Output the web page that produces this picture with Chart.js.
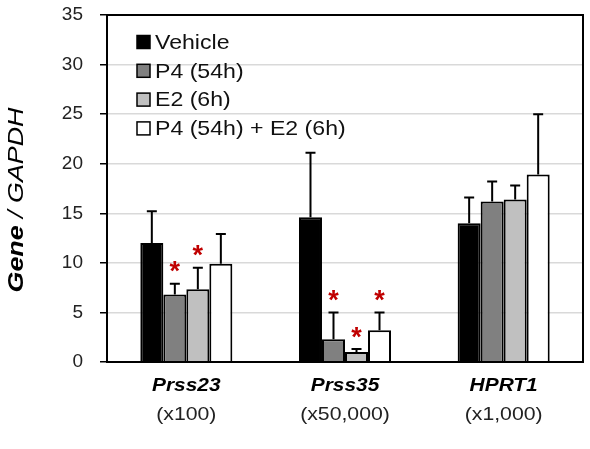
<!DOCTYPE html>
<html>
<head>
<meta charset="utf-8">
<script src="https://cdn.jsdelivr.net/npm/chart.js@4"></script>
<style>
  html, body { margin: 0; padding: 0; background: #fff; }
  #wrap { width: 590px; height: 449px; position: relative; }
</style>
</head>
<body>
<div id="wrap"><canvas id="chart"></canvas></div>
<script>
const genes = ["Prss23", "Prss35", "HPRT1"];
const scales = ["(x100)", "(x50,000)", "(x1,000)"];
const seriesNames = ["Vehicle", "P4 (54h)", "E2 (6h)", "P4 (54h) + E2 (6h)"];
const seriesColors = ["#000000", "#808080", "#c0c0c0", "#ffffff"];

const vehicle = [12.0, 14.6, 14.0];
const p4 = [6.8, 2.3, 16.2];
const e2 = [7.35, 1.0, 16.4];
const p4e2 = [9.9, 3.2, 18.9];

const vehicleErr = [3.2, 6.5, 2.6];
const p4Err = [1.1, 2.7, 2.0];
const e2Err = [2.15, 0.3, 1.4];
const p4e2Err = [3.0, 1.8, 6.1];

// significance marks, same order as series
const vehicleSig = [false, false, false];
const p4Sig = [true, true, false];
const e2Sig = [true, true, false];
const p4e2Sig = [false, true, false];

const yTicks = [0, 5, 10, 15, 20, 25, 30, 35];

const values = [vehicle, p4, e2, p4e2];
const errors = [vehicleErr, p4Err, e2Err, p4e2Err];
const sigs = [vehicleSig, p4Sig, e2Sig, p4e2Sig];

const FONT = "'Liberation Sans', Arial, sans-serif";

// draw text stretched horizontally (the original uses wide lettering)
function wideText(ctx, text, x, y, font, stretch, align) {
  ctx.save();
  ctx.font = font;
  ctx.translate(x, y);
  ctx.scale(stretch, 1);
  ctx.textAlign = align;
  ctx.fillText(text, 0, 0);
  ctx.restore();
}

const extras = {
  id: "extras",
  afterDatasetsDraw(chart) {
    const ctx = chart.ctx;
    const y = chart.scales.y;
    ctx.save();
    chart.data.datasets.forEach((ds, i) => {
      const meta = chart.getDatasetMeta(i);
      meta.data.forEach((bar, j) => {
        const top = y.getPixelForValue(ds.data[j] + errors[i][j]);
        ctx.strokeStyle = "#000";
        ctx.lineWidth = 2;
        ctx.beginPath();
        ctx.moveTo(bar.x, bar.y);
        ctx.lineTo(bar.x, top);
        ctx.moveTo(bar.x - 5, top);
        ctx.lineTo(bar.x + 5, top);
        ctx.stroke();
        if (sigs[i][j]) {
          ctx.fillStyle = "#c00000";
          ctx.font = "bold 27px " + FONT;
          ctx.textAlign = "center";
          ctx.textBaseline = "middle";
          ctx.fillText("*", bar.x, top - 11);
        }
      });
    });
    ctx.restore();
  },
  afterDraw(chart) {
    const ctx = chart.ctx;
    const a = chart.chartArea;
    const x = chart.scales.x;
    ctx.save();
    // frame
    ctx.strokeStyle = "#000";
    ctx.lineWidth = 2;
    ctx.strokeRect(a.left, a.top, a.right - a.left, a.bottom - a.top);

    // category labels
    ctx.textBaseline = "middle";
    genes.forEach((g, i) => {
      const px = x.getPixelForValue(i);
      ctx.fillStyle = "#000";
      wideText(ctx, g, px, 386, "italic bold 19px " + FONT, 1.1, "center");
      ctx.fillStyle = "#222";
      wideText(ctx, scales[i], px, 415, "18px " + FONT, 1.18, "center");
    });

    // y title
    ctx.save();
    ctx.fillStyle = "#000";
    ctx.translate(17, 200);
    ctx.rotate(-Math.PI / 2);
    ctx.scale(1.22, 1);
    ctx.textBaseline = "middle";
    const part1 = "Gene";
    const part2 = " / GAPDH";
    ctx.font = "italic bold 22px " + FONT;
    const w1 = ctx.measureText(part1).width;
    ctx.font = "italic 22px " + FONT;
    const w2 = ctx.measureText(part2).width;
    const sx = -(w1 + w2) / 2;
    ctx.textAlign = "left";
    ctx.font = "italic bold 22px " + FONT;
    ctx.fillText(part1, sx, 0);
    ctx.font = "italic 22px " + FONT;
    ctx.fillText(part2, sx + w1, 0);
    ctx.restore();

    // legend inside plot
    ctx.textBaseline = "middle";
    seriesNames.forEach((name, i) => {
      const ly = 42 + i * 28.8;
      ctx.fillStyle = seriesColors[i];
      ctx.fillRect(137, ly - 6.5, 13, 13);
      ctx.strokeStyle = "#000";
      ctx.lineWidth = 1.5;
      ctx.strokeRect(137, ly - 6.5, 13, 13);
      ctx.fillStyle = "#111";
      wideText(ctx, name, 155, ly + 1, "21px " + FONT, 1.1, "left");
    });
    ctx.restore();
  }
};

new Chart(document.getElementById("chart"), {
  type: "bar",
  data: {
    labels: genes,
    datasets: seriesNames.map((name, i) => ({
      label: name,
      data: values[i],
      backgroundColor: seriesColors[i],
      borderColor: "#000",
      borderWidth: 2,
      borderSkipped: "bottom",
      categoryPercentage: 0.58,
      barPercentage: 1.0,
    })),
  },
  options: {
    responsive: true,
    maintainAspectRatio: false,
    animation: false,
    layout: { padding: { left: 0, right: 7, top: 15, bottom: 0 } },
    scales: {
      x: {
        ticks: { display: false },
        grid: { display: false },
        border: { display: false },
        afterFit: (scale) => { scale.height = 87; },
      },
      y: {
        min: 0,
        max: 35,
        afterBuildTicks: (scale) => { scale.ticks = yTicks.map((v) => ({ value: v })); },
        afterFit: (scale) => {
          scale.width = 107;
          scale.paddingTop = 0;
          scale.paddingBottom = 0;
        },
        ticks: {
          color: "#222",
          padding: 17,
          font: { family: FONT, size: 19 },
        },
        grid: { color: "#d9d9d9", lineWidth: 1.5, tickColor: "#000", tickLength: 7 },
        border: { color: "#000", width: 2 },
      },
    },
    plugins: {
      legend: { display: false },
      tooltip: { enabled: false },
    },
  },
  plugins: [extras],
});
</script>
</body>
</html>
